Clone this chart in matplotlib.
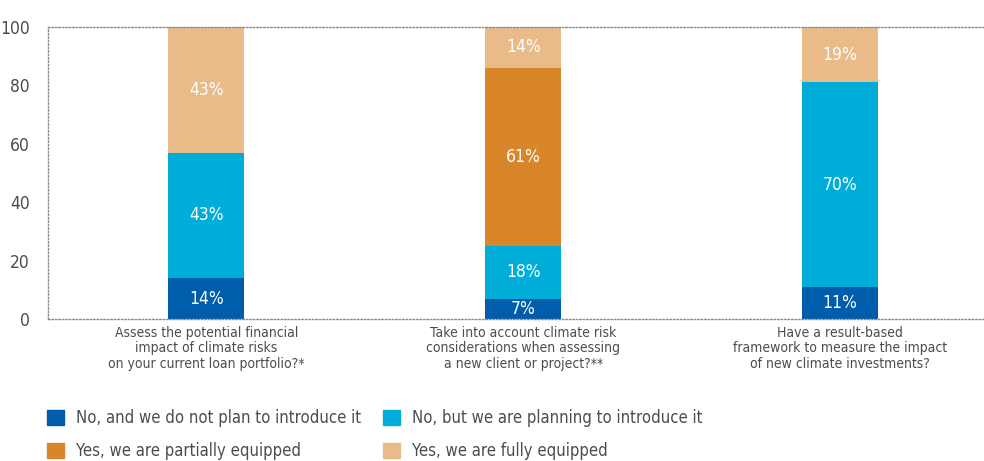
import numpy as np
import matplotlib.pyplot as plt
from matplotlib.patches import Patch
from matplotlib import font_manager

# prefer a condensed sans face when one is installed
fam, stretch = 'DejaVu Sans', 'normal'
for f in font_manager.fontManager.ttflist:
    narrow = ('Condensed' in f.name or 'Narrow' in f.name or
              f.stretch in ('condensed', 'semi-condensed', 'extra-condensed'))
    if narrow and f.style == 'normal' and f.weight in (400, 'normal', 'regular'):
        fam, stretch = f.name, f.stretch
        break
plt.rcParams['font.family'] = [fam, 'DejaVu Sans']
plt.rcParams['font.stretch'] = stretch

questions = [
    'Assess the potential financial\nimpact of climate risks\non your current loan portfolio?*',
    'Take into account climate risk\nconsiderations when assessing\na new client or project?**',
    'Have a result-based\nframework to measure the impact\nof new climate investments?',
]
answers = [
    'No, and we do not plan to introduce it',
    'No, but we are planning to introduce it',
    'Yes, we are partially equipped',
    'Yes, we are fully equipped',
]
no_plan = [14, 7, 11]
planning = [43, 18, 70]
partial = [0, 61, 0]
full = [43, 14, 19]
colors = ['#005dab', '#00add9', '#d9862b', '#e9bb88']
text_gray = '#4d4d4d'

series = [no_plan, planning, partial, full]

fig = plt.figure(figsize=(9.84, 4.61), dpi=100)
ax = fig.add_axes([48 / 984, 1 - 319 / 461, 1 - 48 / 984, 292 / 461])

x = np.arange(len(questions))
bottom = np.zeros(len(questions))
for vals, c in zip(series, colors):
    vals = np.array(vals, dtype=float)
    ax.bar(x, vals, width=0.24, bottom=bottom, color=c, zorder=2)
    for xi, b, v in zip(x, bottom, vals):
        if v > 0:
            ax.text(xi, b + v / 2, f'{int(v)}%', ha='center', va='center',
                    color='white', fontsize=12.5)
    bottom += vals

ax.set_xlim(-0.5, 2.454)
ax.set_ylim(0, 100)
ax.set_yticks(range(0, 101, 20))
ax.tick_params(axis='y', length=0, labelsize=12.5, labelcolor=text_gray, pad=13)
ax.set_xticks(x)
ax.set_xticklabels(questions, fontsize=10, color=text_gray, linespacing=1.12)
ax.tick_params(axis='x', length=0, pad=5)

for side in ['top', 'left', 'bottom']:
    ax.spines[side].set_linestyle((0, (1, 1.5)))
    ax.spines[side].set_color('#8a8a8a')
    ax.spines[side].set_linewidth(1.0)
ax.spines['right'].set_visible(False)

handles = [Patch(color=c) for c in colors]
order = [0, 2, 1, 3]
fig.legend([handles[i] for i in order], [answers[i] for i in order],
           ncol=2, loc='upper left', bbox_to_anchor=(47 / 984, 1 - 409 / 461),
           frameon=False, fontsize=12, labelcolor=text_gray,
           handlelength=1.0, handleheight=1.0, handletextpad=0.75,
           columnspacing=1.3, labelspacing=0.9, borderaxespad=0, borderpad=0)

fig.savefig('out.png', dpi=100)
